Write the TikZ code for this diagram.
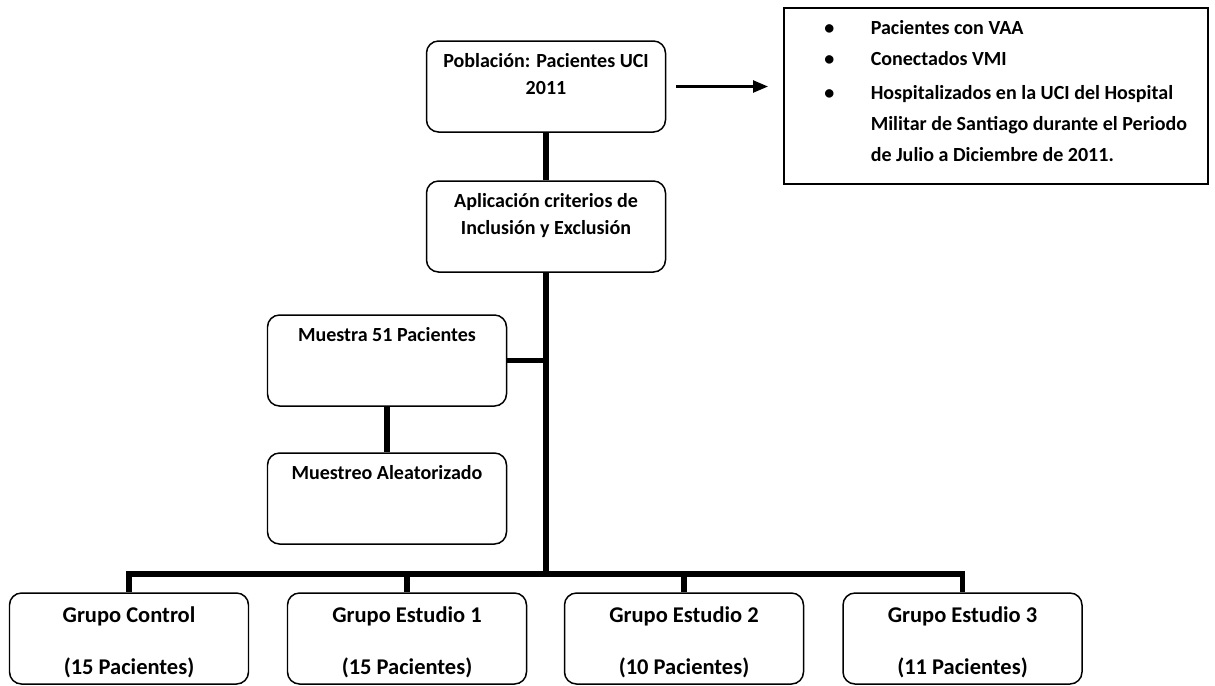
\documentclass[tikz,border=0pt]{standalone}
\usepackage{fontspec}
\setmainfont{Carlito}
\usetikzlibrary{arrows.meta}

\begin{document}
\begin{tikzpicture}[
	caja/.style={draw=black, line width=0.85pt, rounded corners=0.24cm, fill=white, anchor=base,
		text width=4.5cm, align=flush center, inner xsep=0.1cm, inner ysep=0pt, minimum width=4.78cm,
		text height=0.52cm, text depth=1.30cm, font=\fontsize{11.4}{15.4}\selectfont\bfseries},
	grupo/.style={caja, text height=0.58cm, text depth=1.24cm, font=\fontsize{12.8}{14.8}\selectfont\bfseries},
	conector/.style={draw=black, line width=3.4pt},
]
\useasboundingbox (0,0) rectangle (24.3,-13.7);
\begin{scope}[every node/.style={caja}]
	\node (pob) at (10.92,-1.34) {Población: Pacientes UCI\\ 2011};
	\node (apl) at (10.92,-4.14) {Aplicación criterios de\\ Inclusión y Exclusión};
	\node (mue) at (7.74,-6.82) {Muestra 51 Pacientes};
	\node (mueo) at (7.74,-9.58) {Muestreo Aleatorizado};
\end{scope}
\begin{scope}[every node/.style={grupo}]
	\node (g0) at (2.58,-12.44) {Grupo Control\\ \mbox{}\\ (15 Pacientes)};
	\node (g1) at (8.14,-12.44) {Grupo Estudio 1\\ \mbox{}\\ (15 Pacientes)};
	\node (g2) at (13.68,-12.44) {Grupo Estudio 2\\ \mbox{}\\ (10 Pacientes)};
	\node (g3) at (19.25,-12.44) {Grupo Estudio 3\\ \mbox{}\\ (11 Pacientes)};
\end{scope}
\node[draw=black, line width=0.85pt, anchor=north west, inner xsep=0.05cm, inner ysep=0pt,
	text width=8.38cm, align=flush left, text height=0.54cm, text depth=2.98cm,
	font=\fontsize{11.4}{17.6}\selectfont\bfseries] (lista) at (15.66,-0.14) {%
	\hspace*{0.76cm}\makebox[0.93cm][l]{\textbullet}Pacientes con VAA\\
	\hspace*{0.76cm}\makebox[0.93cm][l]{\textbullet}Conectados VMI\\[1.5pt]
	\hspace*{0.76cm}\makebox[0.93cm][l]{\textbullet}Hospitalizados en la UCI del Hospital\\
	\hspace*{1.69cm}Militar de Santiago durante el Periodo\\
	\hspace*{1.69cm}de Julio a Diciembre de 2011.};
\coordinate (bar) at (10.92,-11.47);
\draw[-{Triangle[length=0.3cm,width=0.24cm]}, line width=1.4pt, shorten <=0.2cm, shorten >=0.3cm]
	(pob.east) -- (pob.east -| lista.west);
\begin{scope}[every edge/.style={conector}]
	\path (pob) edge (apl);
	\path (apl) edge (bar);
	\path (mue.east) edge (mue.east -| apl.south);
	\path (mue) edge (mueo);
\end{scope}
\draw[conector] (g0) |- (bar) -| (g3);
\foreach \g in {g1,g2}
	\draw[conector] (\g) -- (\g |- bar);
\end{tikzpicture}
\end{document}
